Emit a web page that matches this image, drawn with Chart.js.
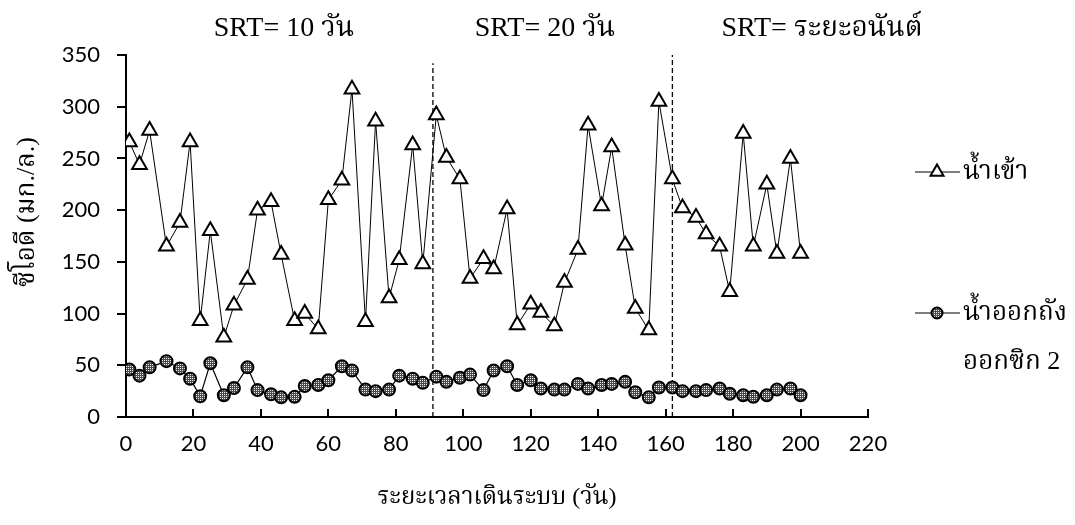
<!DOCTYPE html>
<html><head><meta charset="utf-8">
<script src="https://cdn.jsdelivr.net/npm/chart.js@4.4.1/dist/chart.umd.min.js"></script>
<style>html,body{margin:0;padding:0;background:#fff;} canvas{display:block;}</style>
</head><body>
<canvas id="c" width="1075" height="525"></canvas>
<script>
const days = [1,4,7,12,16,19,22,25,29,32,36,39,43,46,50,53,57,60,64,67,71,74,78,81,85,88,92,95,99,102,106,109,113,116,120,123,127,130,134,137,141,144,148,151,155,158,162,165,169,172,176,179,183,186,190,193,197,200];
const influent = [266,244,277,165,188,266,93,180,77,108,133,200,208,157,93,100,85,210,229,317,92,286,115,152,263,148,292,251,230,134,153,143,201,89,109,101,88,130,162,282,204,261,166,105,84,305,230,202,193,177,165,121,274,165,225,158,250,158];
const effluent = [46,40,48,54,47,37,20,52,21,28,48,26,22,19,19.5,30,31,35.5,49,45,26.5,25,26.5,40,37,33,39,34,38,41,26,45,49,31,35.5,27.5,26.5,26.5,32,27.5,31,32,34,24,19,28.5,28.5,25,25,26,27.5,22.5,21,19.5,21,26.5,27.5,21];
const xTickValues = [0,20,40,60,80,100,120,140,160,180,200,220];
const yTickValues = [0,50,100,150,200,250,300,350];
const phaseBoundaries = [91,162];
const boundaryTops = [342,350];
const phaseLabels = ['SRT= 10 วัน','SRT= 20 วัน','SRT= ระยะอนันต์'];
const seriesNames = [['น้ำเข้า'], ['น้ำออกถัง','ออกซิก 2']];
const xTitle = 'ระยะเวลาเดินระบบ (วัน)';
const yTitle = 'ซีโอดี (มก./ล.)';

const SERIF = "'Liberation Serif','Noto Serif Thai','Noto Sans Thai',serif";
const SANS = "Lato,'Liberation Sans',sans-serif";

function makePattern(){
  const p=document.createElement('canvas'); p.width=2; p.height=2;
  const g=p.getContext('2d');
  g.fillStyle='#4a4a4a'; g.fillRect(0,0,2,2);
  g.fillStyle='#f0f0f0'; g.fillRect(0,0,1,1);
  return document.getElementById('c').getContext('2d').createPattern(p,'repeat');
}
const pat = makePattern();

const annot = {
  id:'annot',
  afterDraw(chart){
    const ctx=chart.ctx, xs=chart.scales.x, a=chart.chartArea;
    ctx.save();
    ctx.strokeStyle='#000'; ctx.lineWidth=2;
    xTickValues.forEach(v=>{
      const px=Math.round(xs.getPixelForValue(v));
      ctx.beginPath(); ctx.moveTo(px,a.bottom); ctx.lineTo(px,a.bottom-8); ctx.stroke();
    });
    ctx.fillStyle='#000'; ctx.font='28px '+SERIF; ctx.textAlign='center'; ctx.textBaseline='middle';
    const tx=[284,545,822];
    phaseLabels.forEach((t,i)=>ctx.fillText(t,tx[i],29));
    ctx.save(); ctx.translate(27,212); ctx.rotate(-Math.PI/2);
    ctx.font='26px '+SERIF; ctx.textAlign='center'; ctx.textBaseline='middle';
    ctx.fillText(yTitle,0,0); ctx.restore();
    const items=[{y:172,style:'triangle',r:7.5,bg:'#fff',bw:2},{y:313,style:'circle',r:5.5,bg:pat,bw:2}];
    items.forEach((it,i)=>{
      ctx.strokeStyle='#000'; ctx.lineWidth=1;
      ctx.beginPath(); ctx.moveTo(915,it.y); ctx.lineTo(960,it.y); ctx.stroke();
      ctx.fillStyle=it.bg; ctx.lineWidth=it.bw;
      Chart.helpers.drawPoint(ctx,{pointStyle:it.style,radius:it.r,borderWidth:it.bw},937,it.y);
      ctx.fillStyle='#000'; ctx.font='26px '+SERIF; ctx.textAlign='left'; ctx.textBaseline='middle';
      seriesNames[i].forEach((s,j)=>ctx.fillText(s,963,it.y+j*49));
    });
    ctx.restore();
  }
};

new Chart(document.getElementById('c'),{
  type:'line',
  data:{datasets:[
    {label:seriesNames[0][0],data:days.map((d,i)=>({x:d,y:influent[i]})),borderColor:'#000',borderWidth:1,
     pointStyle:'triangle',pointRadius:8.5,pointBackgroundColor:'#fff',pointBorderColor:'#000',pointBorderWidth:2,tension:0},
    {label:seriesNames[1].join(' '),data:days.map((d,i)=>({x:d,y:effluent[i]})),borderColor:'#000',borderWidth:1.2,
     pointStyle:'circle',pointRadius:6,pointBackgroundColor:pat,pointBorderColor:'#000',pointBorderWidth:2,tension:0},
    ...phaseBoundaries.map((b,i)=>({data:[{x:b,y:0},{x:b,y:boundaryTops[i]}],borderColor:'#000',borderWidth:1.3,borderDash:[5,3],pointRadius:0}))
  ]},
  options:{
    responsive:false, animation:false, devicePixelRatio:1,
    layout:{padding:{top:55,right:207,left:0,bottom:0}},
    plugins:{legend:{display:false},tooltip:{enabled:false}},
    scales:{
      x:{type:'linear',min:0,max:220,afterBuildTicks(s){s.ticks=xTickValues.map(v=>({value:v}));},
         afterFit(s){s.height=108;},
         ticks:{color:'#000',font:{family:SANS,size:22},padding:14,maxRotation:0},
         grid:{display:false,drawTicks:false},
         border:{display:true,color:'#000',width:2},
         title:{display:true,text:xTitle,color:'#000',font:{family:SERIF,size:24},padding:{bottom:13}}},
      y:{min:0,max:350,afterBuildTicks(s){s.ticks=yTickValues.map(v=>({value:v}));},
         afterFit(s){s.width=126;},
         ticks:{color:'#000',font:{family:SANS,size:22},padding:17},
         grid:{display:true,drawOnChartArea:false,drawTicks:true,tickLength:9,color:'#000',lineWidth:2},
         border:{display:true,color:'#000',width:2},
         title:{display:false}}
    }
  },
  plugins:[annot]
});
</script>
</body></html>
